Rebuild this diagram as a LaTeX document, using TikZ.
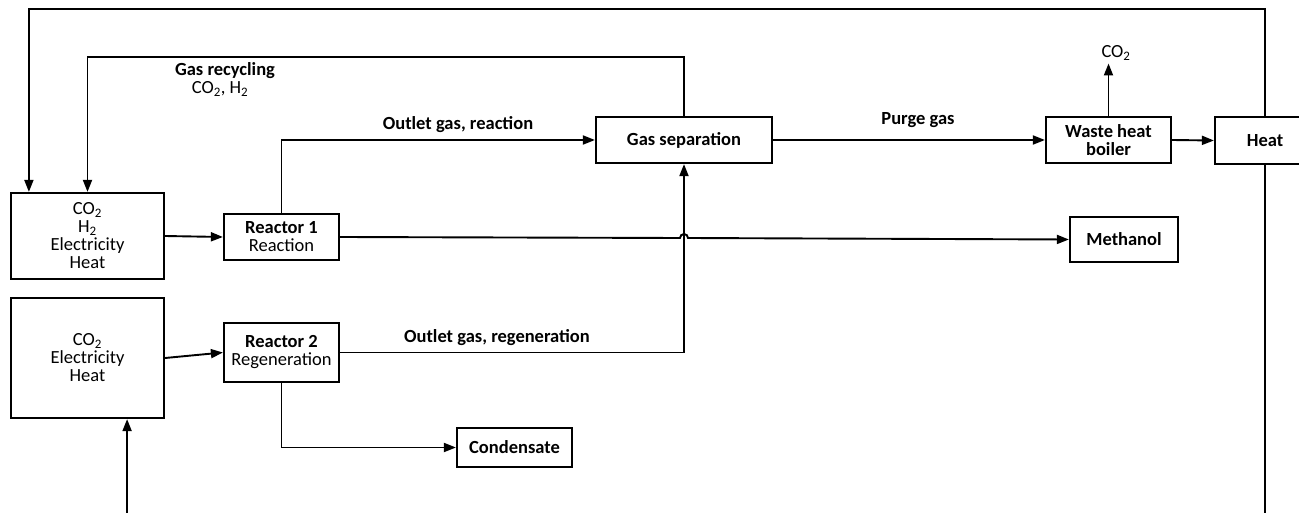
\documentclass[tikz,border=0pt]{standalone}
\usepackage{fontspec}
\setmainfont{Carlito}
\usetikzlibrary{arrows.meta,calc}

\begin{document}
\begin{tikzpicture}[x=1pt,y=-1pt,
    every node/.style={font=\fontsize{18.5}{18}\selectfont},
    blk/.style={draw,line width=2.2pt,align=center,inner sep=0pt},
    flow/.style={line width=1.9pt,-{Triangle[length=12pt,width=9pt]}}]
    \useasboundingbox (0,0) rectangle (1299,513);
    \clip (0,0) rectangle (1299,513);
    % boxes
    \node[blk,minimum width=153,minimum height=86] (in1) at (87.5,236) {CO\textsubscript{2}\\H\textsubscript{2}\\Electricity\\Heat};
    \node[blk,minimum width=153,minimum height=120] (in2) at (87.5,358) {CO\textsubscript{2}\\Electricity\\Heat};
    \node[blk,minimum width=115,minimum height=46] (r1) at (281.5,237) {\textbf{Reactor 1}\\Reaction};
    \node[blk,minimum width=115,minimum height=59] (r2) at (281.5,352.5) {\textbf{Reactor 2}\\Regeneration};
    \node[blk,minimum width=176,minimum height=46] (sep) at (684,140) {\textbf{Gas separation}};
    \node[blk,minimum width=125,minimum height=46] (boil) at (1108.5,140) {\textbf{Waste heat}\\\textbf{boiler}};
    \node[blk,minimum width=100,minimum height=47] (heat) at (1265,140.5) {\textbf{Heat}};
    \node[blk,minimum width=108,minimum height=45] (meth) at (1124,239.5) {\textbf{Methanol}};
    \node[blk,minimum width=115,minimum height=39] (cond) at (514.5,447.5) {\textbf{Condensate}};
    \node[inner sep=3pt] (co2) at (1116,53) {CO\textsubscript{2}};
    % labels
    \node (lblreac) at (458,125) {\textbf{Outlet gas, reaction}};
    \node (lblregen) at (497,338) {\textbf{Outlet gas, regeneration}};
    \node (lblpurge) at (918,120) {\textbf{Purge gas}};
    \node (lblrecyc) at (225,71) {\textbf{Gas recycling}};
    \node (lblrecgas) at (220,89) {CO\textsubscript{2}, H\textsubscript{2}};
    % flows
    \draw[flow] (in1.east) -- (r1.west);
    \draw[flow] (in2.east) -- (r2.west);
    \draw[flow] (r1.north) |- (sep.west);
    \draw[flow] (r2.east) -| (sep.south);
    \draw[flow] (r2.south) |- (cond.west);
    \draw[flow] (sep.east) -- (boil.west);
    \draw[flow] (boil.north) -- (boil.north |- co2.south);
    \draw[flow] (boil.east) -- (heat.west);
    \draw[flow] (sep.north) -- ++(0,-59) -| (in1.north);
    \draw[flow] (heat.north) -- ++(0,-107) -| ($(in1.north west)+(19,0)$);
    \draw[flow] (heat.south) -- ++(0,380) -| ($(in2.south east)+(-38,0)$);
    \coordinate (hop) at (684,238);
    \draw[flow] (r1.east) -- ($(hop)+(-4,0)$) arc[start angle=180,end angle=360,radius=4] -- (meth.west);
\end{tikzpicture}
\end{document}
